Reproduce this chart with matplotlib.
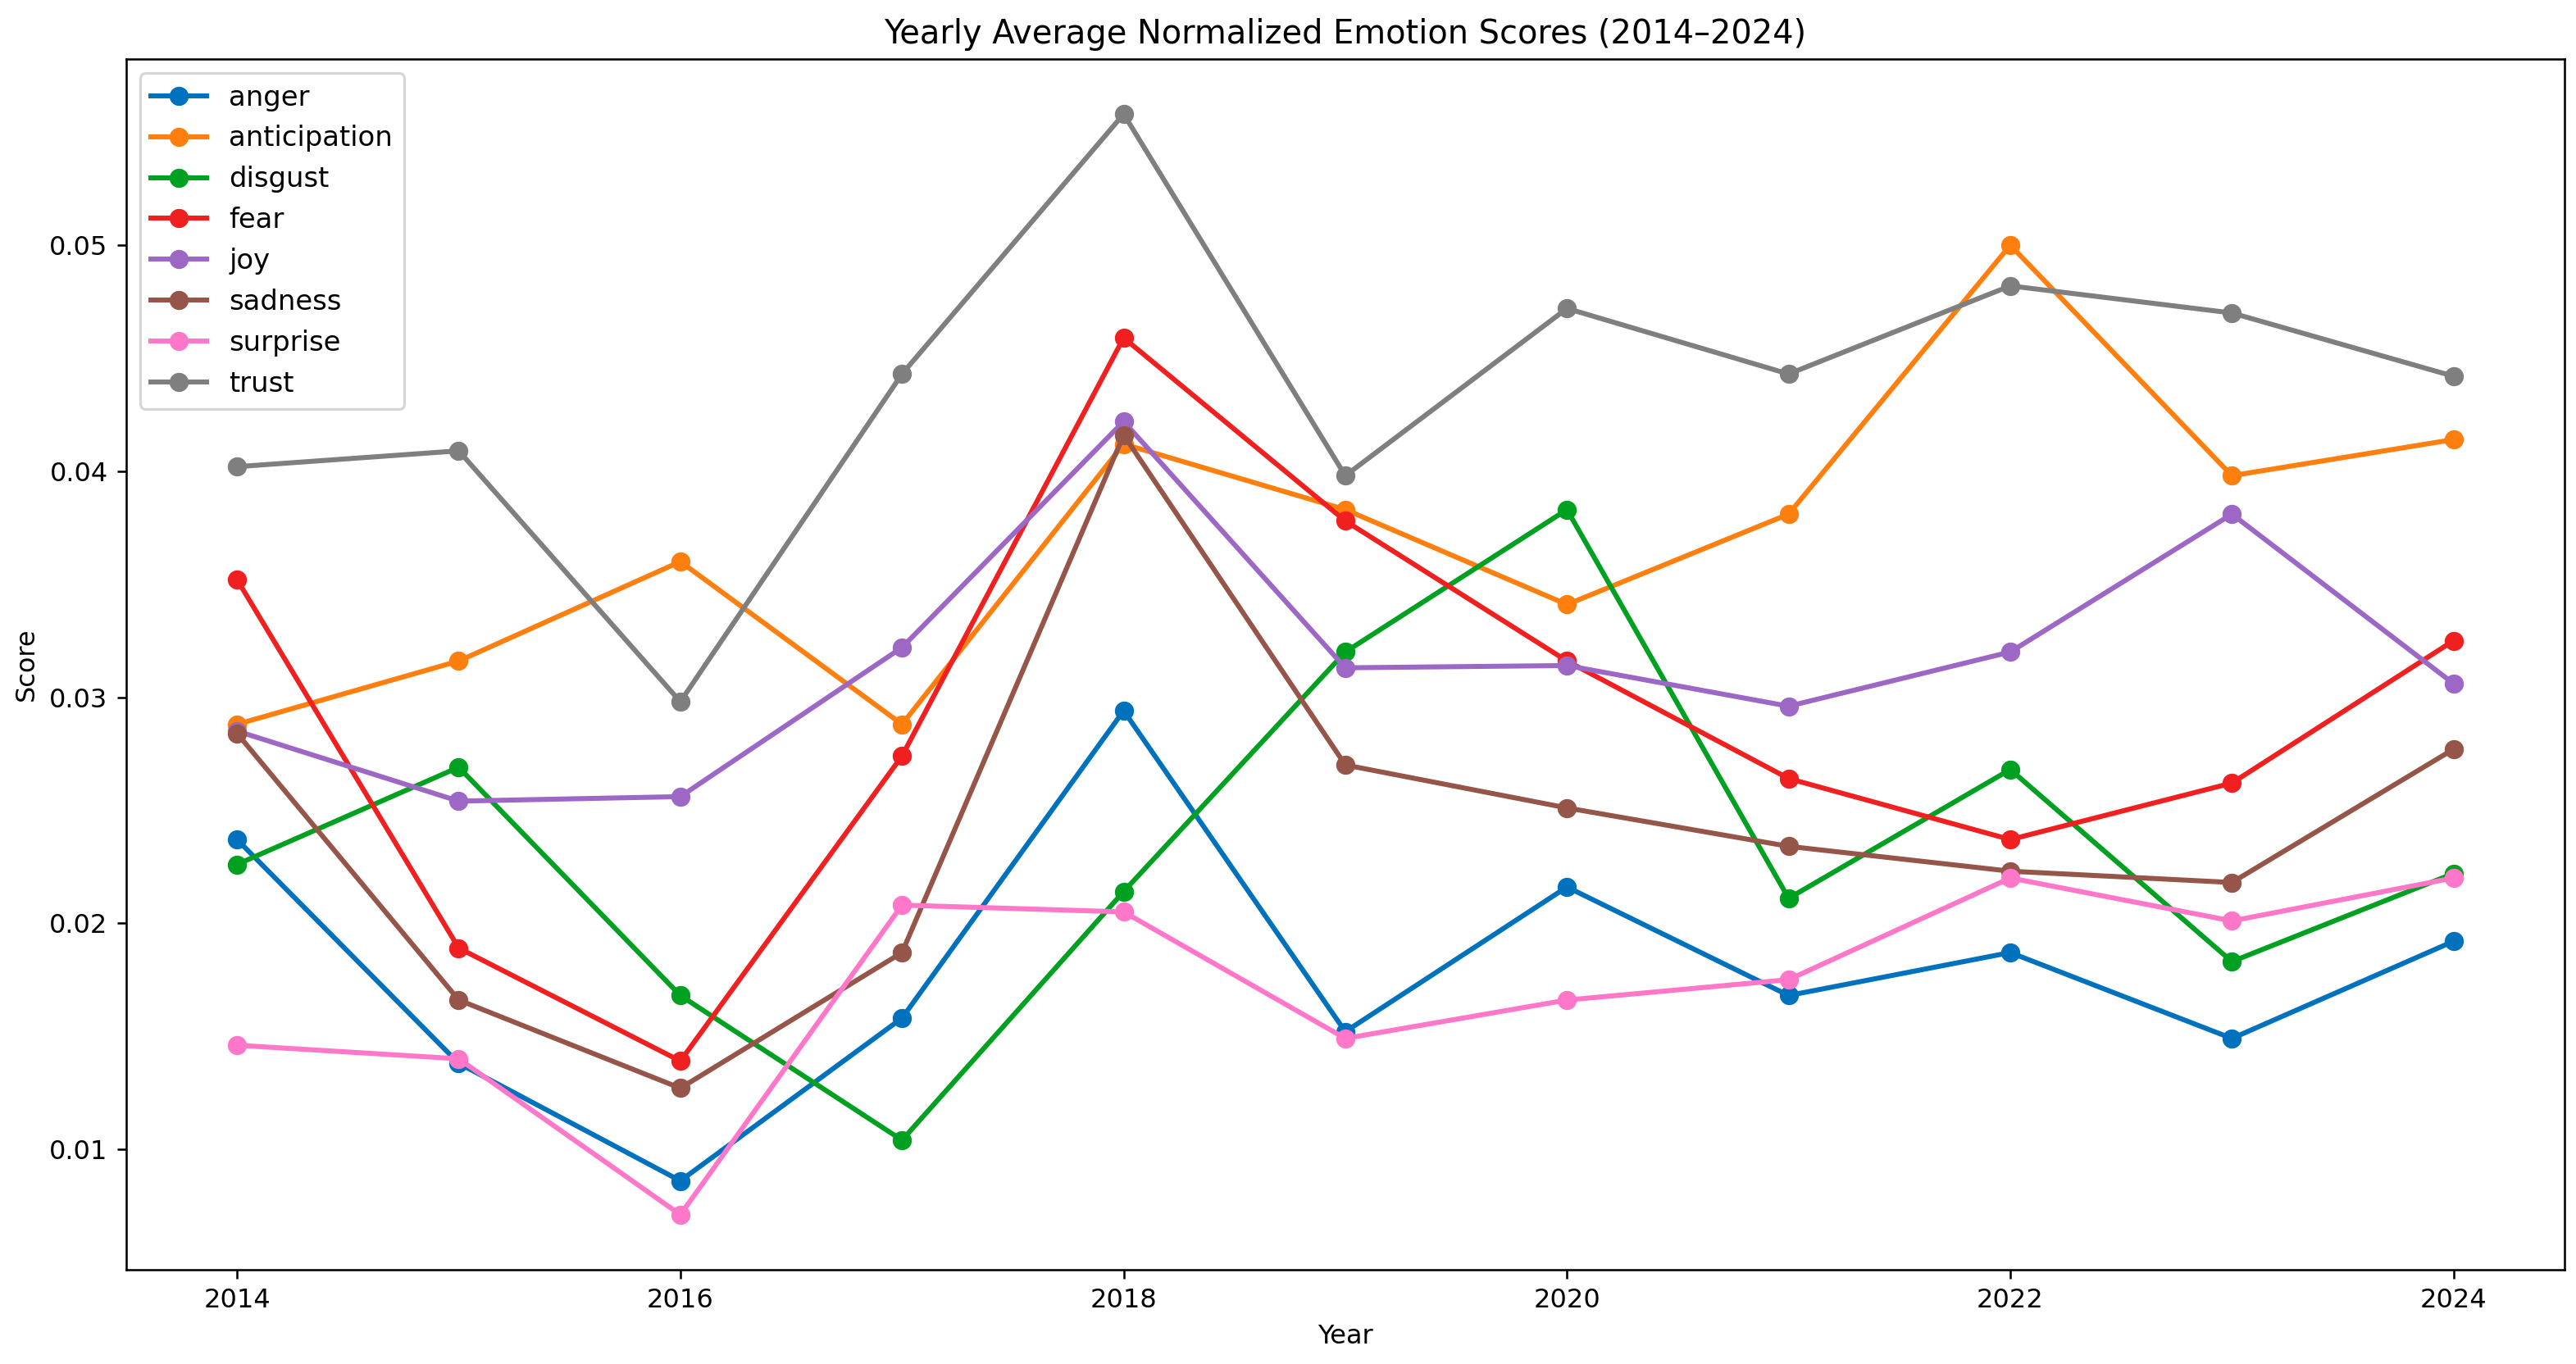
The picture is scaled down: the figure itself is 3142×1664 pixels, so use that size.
import numpy as np
import matplotlib.pyplot as plt

''' Data '''
years = np.arange(2014, 2025)

anger = [0.0237, 0.0138, 0.0086, 0.0158, 0.0294, 0.0152, 0.0216, 0.0168, 0.0187, 0.0149, 0.0192]
anticipation = [0.0288, 0.0316, 0.0360, 0.0288, 0.0412, 0.0383, 0.0341, 0.0381, 0.0500, 0.0398, 0.0414]
disgust = [0.0226, 0.0269, 0.0168, 0.0104, 0.0214, 0.0320, 0.0383, 0.0211, 0.0268, 0.0183, 0.0222]
fear = [0.0352, 0.0189, 0.0139, 0.0274, 0.0459, 0.0378, 0.0316, 0.0264, 0.0237, 0.0262, 0.0325]
joy = [0.0285, 0.0254, 0.0256, 0.0322, 0.0422, 0.0313, 0.0314, 0.0296, 0.0320, 0.0381, 0.0306]
sadness = [0.0284, 0.0166, 0.0127, 0.0187, 0.0416, 0.0270, 0.0251, 0.0234, 0.0223, 0.0218, 0.0277]
surprise = [0.0146, 0.0140, 0.0071, 0.0208, 0.0205, 0.0149, 0.0166, 0.0175, 0.0220, 0.0201, 0.0220]
trust = [0.0402, 0.0409, 0.0298, 0.0443, 0.0558, 0.0398, 0.0472, 0.0443, 0.0482, 0.0470, 0.0442]

emotions = ['anger', 'anticipation', 'disgust', 'fear', 'joy', 'sadness', 'surprise', 'trust']
series = [anger, anticipation, disgust, fear, joy, sadness, surprise, trust]
colors = ['#0072bd', '#ff7f0e', '#00a020', '#f02020', '#9d67c6', '#955548', '#ff77c8', '#7f7f7f']

''' Graphing '''
fig_dpi = 230
fig = plt.figure(figsize=(3142 / fig_dpi, 1664 / fig_dpi), dpi=fig_dpi)
ax = fig.add_axes([0.049, 0.0691, 0.9465, 0.8876])

for name, values, color in zip(emotions, series, colors):
    ax.plot(years, values, marker='o', linewidth=1.9, markersize=6.3,
            color=color, label=name)

ax.set_xlabel('Year')
ax.set_ylabel('Score')
ax.set_title('Yearly Average Normalized Emotion Scores (2014\u20132024)', fontsize=12.5)
ax.legend(loc='upper left', fontsize=10.6)

plt.savefig('out.png', dpi=fig_dpi)
